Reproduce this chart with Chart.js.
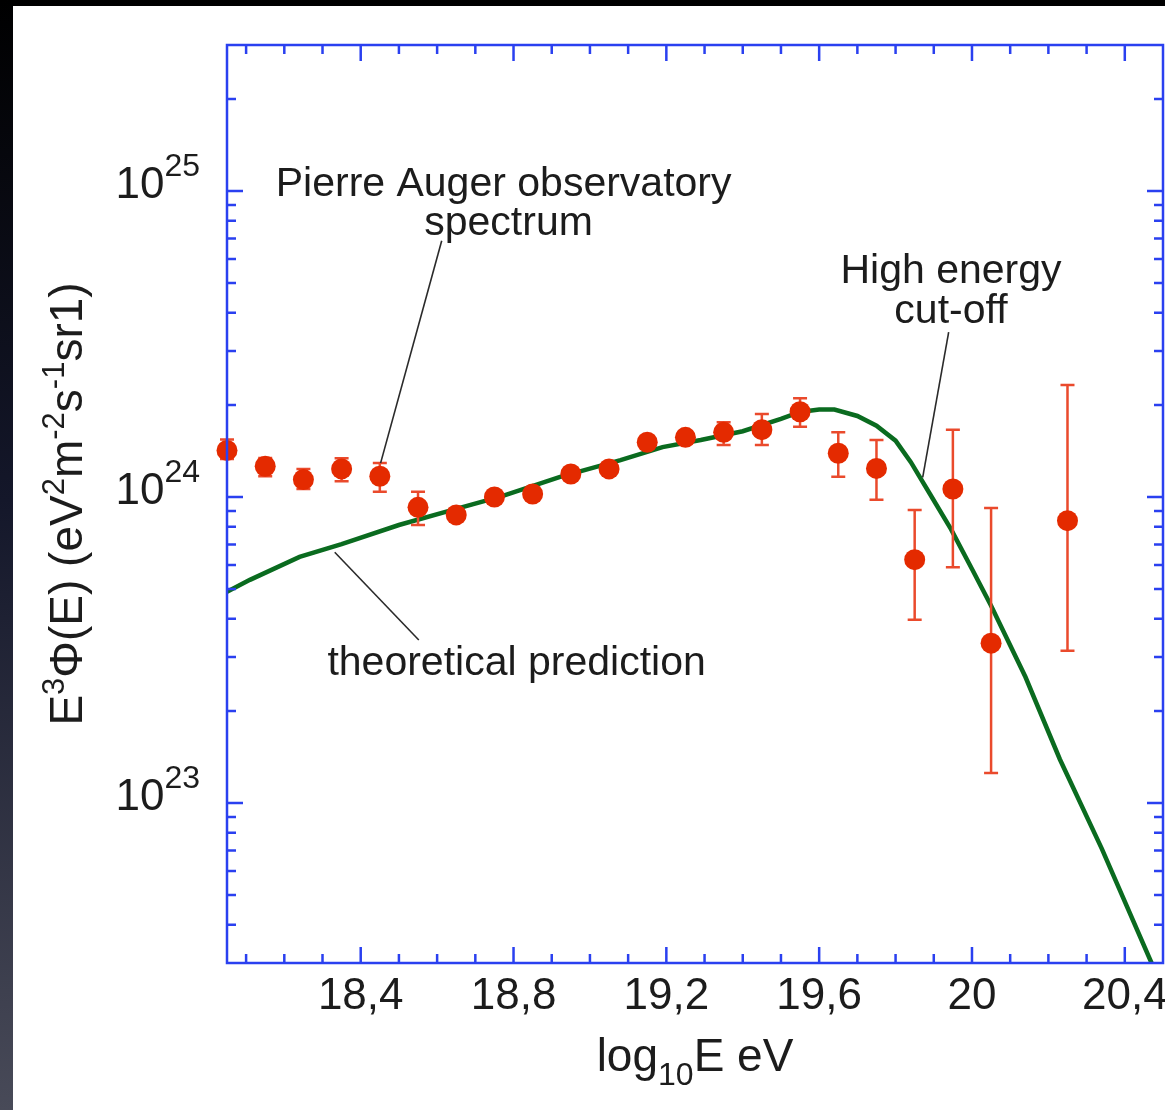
<!DOCTYPE html>
<html>
<head>
<meta charset="utf-8">
<script src="https://cdn.jsdelivr.net/npm/chart.js@4.4.1/dist/chart.umd.min.js"></script>
<style>
  html, body { margin: 0; padding: 0; }
  body {
    width: 1165px; height: 1110px; position: relative; overflow: hidden;
    background: linear-gradient(to bottom, #000 0%, #14172a 45%, #484a58 100%);
  }
  #sheet { position: absolute; left: 13px; top: 6px; right: 0; bottom: 0; background: #fff; }
  #spectrum { position: absolute; left: 0; top: 0; }
</style>
</head>
<body>
<div id="sheet"></div>
<canvas id="spectrum" width="1165" height="1110"></canvas>
<script>
// measured spectrum, E^3 * flux per log10(E) bin
const augerLogE = [18.05, 18.15, 18.25, 18.35, 18.45, 18.55, 18.65, 18.75, 18.85, 18.95, 19.05,
  19.15, 19.25, 19.35, 19.45, 19.55, 19.65, 19.75, 19.85, 19.95, 20.05, 20.25]
const augerFlux = [1.42e24, 1.26e24, 1.14e24, 1.235e24, 1.169e24, 0.925e24, 0.874e24, 1.0e24,
  1.023e24, 1.189e24, 1.235e24, 1.51e24, 1.567e24, 1.627e24, 1.66e24, 1.9e24, 1.39e24,
  1.24e24, 0.624e24, 1.062e24, 0.333e24, 0.837e24]
// error bar ends (null = smaller than the marker)
const augerUpper = [1.54e24, 1.34e24, 1.235e24, 1.338e24, 1.291e24, 1.041e24, null, null,
  null, null, null, null, null, 1.754e24, 1.867e24, 2.102e24, 1.627e24, 1.535e24, 0.907e24,
  1.66e24, 0.92e24, 2.323e24]
const augerLower = [1.33e24, 1.17e24, 1.062e24, 1.125e24, 1.041e24, 0.81e24, null, null,
  null, null, null, null, null, 1.479e24, 1.479e24, 1.697e24, 1.165e24, 0.98e24, 0.397e24,
  0.589e24, 0.1253e24, 0.3146e24]

// model curve with the high energy cut-off
const theoryLogE = [18.05, 18.11, 18.24, 18.35, 18.5, 18.65, 18.77, 18.92, 19.08, 19.19, 19.29,
  19.4, 19.5, 19.55, 19.6, 19.64, 19.7, 19.75, 19.8, 19.84, 19.89, 19.945, 20.0, 20.05, 20.14,
  20.23, 20.34, 20.47]
const theoryFlux = [4.9e23, 5.36e23, 6.37e23, 7.01e23, 8.1e23, 9.14e23, 1.007e24, 1.162e24,
  1.32e24, 1.456e24, 1.535e24, 1.64e24, 1.8e24, 1.897e24, 1.93e24, 1.93e24, 1.84e24, 1.71e24,
  1.528e24, 1.3e24, 1.023e24, 7.85e23, 5.82e23, 4.41e23, 2.58e23, 1.39e23, 7.08e22, 3.0e22]

const xMajorTicks = [18.4, 18.8, 19.2, 19.6, 20, 20.4]
const xTickLabels = ['18,4', '18,8', '19,2', '19,6', '20', '20,4']
const yDecades = [23, 24, 25]

const FAMILY = "'Liberation Sans', Arial, Helvetica, sans-serif"
const TEXT = '#1c1c1c'
const BLUE = '#2a40f0'
const RED = '#e42a00'
const ERR = '#ea4a2c'
const GREEN = '#0a6b1f'

// labels and leader lines, placed in data units (logE, flux)
const notes = [
  { text: 'Pierre Auger observatory', at: [18.774, 9.63e24] },
  { text: 'spectrum', at: [18.787, 7.18e24] },
  { text: 'High energy', at: [19.945, 5.0e24] },
  { text: 'cut-off', at: [19.945, 3.71e24] },
  { text: 'theoretical prediction', at: [18.808, 2.62e23] },
]
const leaders = [
  [[18.612, 6.88e24], [18.452, 1.29e24]],
  [[19.939, 3.46e24], [19.871, 1.16e24]],
  [[18.332, 6.6e23], [18.552, 3.41e23]],
]

// draws text pieces of mixed size side by side: [text, size, dy]
function drawRich(ctx, parts, x, y, align) {
  let w = 0
  parts.forEach((p) => {
    ctx.font = `${p[1]}px ${FAMILY}`
    w += ctx.measureText(p[0]).width
  })
  let cx = align === 'center' ? x - w / 2 : align === 'right' ? x - w : x
  parts.forEach((p) => {
    ctx.font = `${p[1]}px ${FAMILY}`
    ctx.fillText(p[0], cx, y + p[2])
    cx += ctx.measureText(p[0]).width
  })
}

const errorBars = {
  id: 'errorBars',
  beforeDatasetDraw(chart, args) {
    if (args.index !== 0) return
    const { ctx, scales: { x, y } } = chart
    ctx.save()
    ctx.strokeStyle = ERR
    ctx.lineWidth = 2.5
    augerLogE.forEach((e, i) => {
      if (augerUpper[i] == null) return
      const px = x.getPixelForValue(e)
      const top = y.getPixelForValue(augerUpper[i])
      const bot = y.getPixelForValue(augerLower[i])
      ctx.beginPath()
      ctx.moveTo(px, top)
      ctx.lineTo(px, bot)
      ctx.moveTo(px - 7, top)
      ctx.lineTo(px + 7, top)
      ctx.moveTo(px - 7, bot)
      ctx.lineTo(px + 7, bot)
      ctx.stroke()
    })
    ctx.restore()
  },
}

const frame = {
  id: 'frame',
  afterDraw(chart) {
    const { ctx, chartArea: a, scales: { x, y } } = chart
    ctx.save()
    ctx.strokeStyle = BLUE
    ctx.lineWidth = 2.5
    ctx.strokeRect(a.left, a.top, a.right - a.left, a.bottom - a.top)
    ctx.beginPath()
    // inward ticks every 0.1 on top and bottom
    for (let k = Math.ceil(x.min * 10); k <= Math.floor(x.max * 10); k++) {
      const v = k / 10
      if (v <= x.min || v >= x.max) continue
      const len = xMajorTicks.some((m) => Math.abs(m - v) < 1e-6) ? 16 : 9
      const px = x.getPixelForValue(v)
      ctx.moveTo(px, a.bottom)
      ctx.lineTo(px, a.bottom - len)
      ctx.moveTo(px, a.top)
      ctx.lineTo(px, a.top + len)
    }
    // log ticks on left and right
    for (let d = 22; d <= 25; d++) {
      for (let m = 1; m <= 9; m++) {
        const v = m * Math.pow(10, d)
        if (v <= y.min || v >= y.max) continue
        const len = m === 1 ? 16 : 9
        const py = y.getPixelForValue(v)
        ctx.moveTo(a.left, py)
        ctx.lineTo(a.left + len, py)
        ctx.moveTo(a.right, py)
        ctx.lineTo(a.right - len, py)
      }
    }
    ctx.stroke()

    ctx.fillStyle = TEXT
    ctx.textBaseline = 'alphabetic'

    // x tick labels
    ctx.font = `44px ${FAMILY}`
    ctx.textAlign = 'center'
    xMajorTicks.forEach((v, i) => {
      ctx.fillText(xTickLabels[i], x.getPixelForValue(v), a.bottom + 46)
    })
    ctx.textAlign = 'left'

    // decade labels 10^n
    yDecades.forEach((d) => {
      const py = y.getPixelForValue(Math.pow(10, d))
      ctx.font = `44px ${FAMILY}`
      const w1 = ctx.measureText('10').width
      ctx.font = `32px ${FAMILY}`
      const w2 = ctx.measureText(String(d)).width
      const x0 = a.left - 27 - w1 - w2
      ctx.font = `44px ${FAMILY}`
      ctx.fillText('10', x0, py + 7)
      ctx.font = `32px ${FAMILY}`
      ctx.fillText(String(d), x0 + w1, py - 15)
    })

    // axis titles
    drawRich(ctx, [['log', 46, 0], ['10', 32, 14], ['E eV', 46, 0]], (a.left + a.right) / 2, 1071, 'center')
    ctx.translate(82, (a.top + a.bottom) / 2)
    ctx.rotate(-Math.PI / 2)
    drawRich(ctx, [['E', 46, 0], ['3', 31, -18], ['\u03A6(E) (eV', 46, 0], ['2', 31, -18],
      ['m', 46, 0], ['-2', 31, -18], ['s', 46, 0], ['-1', 31, -18], ['sr1)', 46, 0]], 0, 0, 'center')
    ctx.restore()
  },
}

const annotate = {
  id: 'annotate',
  afterDatasetsDraw(chart) {
    const { ctx, scales: { x, y } } = chart
    ctx.save()
    ctx.strokeStyle = '#2a2a2a'
    ctx.lineWidth = 1.6
    leaders.forEach(([p, q]) => {
      ctx.beginPath()
      ctx.moveTo(x.getPixelForValue(p[0]), y.getPixelForValue(p[1]))
      ctx.lineTo(x.getPixelForValue(q[0]), y.getPixelForValue(q[1]))
      ctx.stroke()
    })
    ctx.fillStyle = TEXT
    ctx.font = `41px ${FAMILY}`
    ctx.textAlign = 'center'
    ctx.textBaseline = 'alphabetic'
    notes.forEach((n) => {
      ctx.fillText(n.text, x.getPixelForValue(n.at[0]), y.getPixelForValue(n.at[1]))
    })
    ctx.restore()
  },
}

new Chart(document.getElementById('spectrum'), {
  type: 'scatter',
  data: {
    datasets: [
      {
        label: 'Pierre Auger observatory spectrum',
        data: augerLogE.map((e, i) => ({ x: e, y: augerFlux[i] })),
        backgroundColor: RED,
        borderColor: RED,
        borderWidth: 0,
        pointRadius: 10.5,
        pointHoverRadius: 10.5,
        clip: false,
      },
      {
        label: 'theoretical prediction',
        type: 'line',
        data: theoryLogE.map((e, i) => ({ x: e, y: theoryFlux[i] })),
        showLine: true,
        borderColor: GREEN,
        borderWidth: 4.5,
        pointRadius: 0,
        fill: false,
        tension: 0,
      },
    ],
  },
  options: {
    responsive: false,
    animation: false,
    devicePixelRatio: 1,
    layout: { autoPadding: false, padding: { top: 45, right: 2, left: 0, bottom: 0 } },
    plugins: { legend: { display: false }, tooltip: { enabled: false } },
    scales: {
      x: {
        type: 'linear',
        min: 18.05,
        max: 20.5,
        grid: { display: false, drawTicks: false },
        border: { display: false },
        ticks: { display: false },
        afterFit: (s) => {
          s.height = 147
        },
      },
      y: {
        type: 'logarithmic',
        min: 3e22,
        max: 3e25,
        grid: { display: false, drawTicks: false },
        border: { display: false },
        ticks: { display: false },
        afterFit: (s) => {
          s.width = 227
        },
      },
    },
  },
  plugins: [errorBars, frame, annotate],
})
</script>
</body>
</html>
